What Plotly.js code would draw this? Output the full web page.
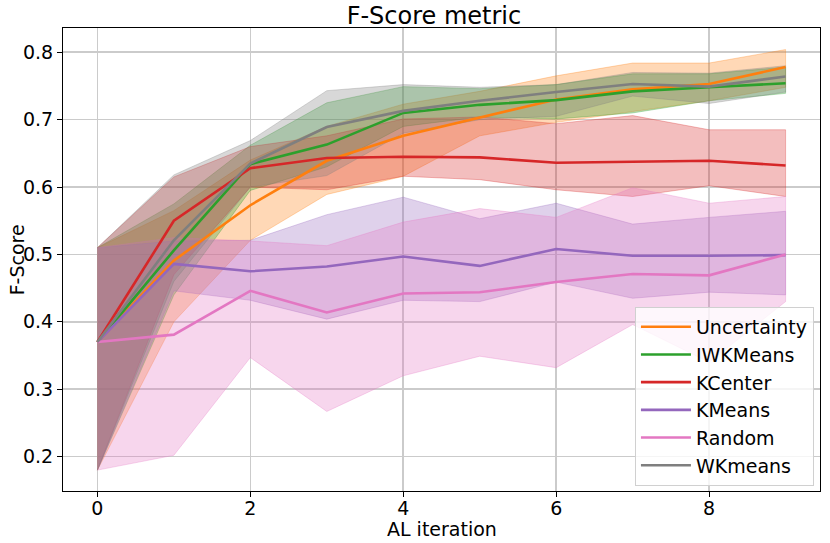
<!DOCTYPE html>
<html>
<head>
<meta charset="utf-8">
<script src="https://cdn.plot.ly/plotly-3.0.1.min.js"></script>
<style>
    html, body { margin: 0; padding: 0; background: #fff; }
    #chart { width: 830px; height: 543px; }
</style>
</head>
<body>
<div id="chart"></div>
<script>
// ==== DATA ==================================================================

// AL iterations on the x axis.
const iterations = [0, 1, 2, 3, 4, 5, 6, 7, 8, 9];

// Series names, in legend order.
const names = ["Uncertainty", "IWKMeans", "KCenter", "KMeans", "Random", "WKmeans"];

// Mean F-Score per iteration.
const uncertaintyMean = [0.370, 0.491, 0.573, 0.639, 0.676, 0.703, 0.730, 0.745, 0.753, 0.778];
const iwkmeansMean    = [0.370, 0.506, 0.634, 0.663, 0.710, 0.722, 0.729, 0.742, 0.748, 0.754];
const kcenterMean     = [0.370, 0.550, 0.628, 0.643, 0.645, 0.644, 0.636, 0.638, 0.639, 0.632];
const kmeansMean      = [0.370, 0.486, 0.475, 0.482, 0.497, 0.483, 0.508, 0.498, 0.498, 0.499];
const randomMean      = [0.370, 0.381, 0.446, 0.414, 0.442, 0.444, 0.459, 0.471, 0.469, 0.500];
const wkmeansMean     = [0.370, 0.521, 0.635, 0.689, 0.713, 0.728, 0.741, 0.753, 0.749, 0.764];

// Upper edge of each shaded band.
const uncertaintyHigh = [0.510, 0.565, 0.640, 0.690, 0.723, 0.742, 0.765, 0.784, 0.784, 0.804];
const iwkmeansHigh    = [0.510, 0.575, 0.662, 0.725, 0.749, 0.746, 0.752, 0.768, 0.768, 0.778];
const kcenterHigh     = [0.510, 0.615, 0.660, 0.676, 0.701, 0.704, 0.694, 0.706, 0.685, 0.685];
const kmeansHigh      = [0.510, 0.520, 0.521, 0.559, 0.585, 0.553, 0.576, 0.545, 0.555, 0.564];
const randomHigh      = [0.510, 0.525, 0.520, 0.513, 0.548, 0.568, 0.555, 0.599, 0.576, 0.586];
const wkmeansHigh     = [0.510, 0.618, 0.669, 0.743, 0.752, 0.748, 0.752, 0.770, 0.769, 0.780];

// Lower edge of each shaded band.
const uncertaintyLow = [0.180, 0.400, 0.521, 0.589, 0.616, 0.676, 0.696, 0.712, 0.728, 0.748];
const iwkmeansLow    = [0.180, 0.440, 0.595, 0.630, 0.690, 0.704, 0.701, 0.710, 0.728, 0.739];
const kcenterLow     = [0.180, 0.470, 0.600, 0.596, 0.616, 0.611, 0.596, 0.586, 0.602, 0.586];
const kmeansLow      = [0.180, 0.446, 0.432, 0.404, 0.432, 0.430, 0.459, 0.435, 0.444, 0.440];
const randomLow      = [0.180, 0.202, 0.347, 0.267, 0.320, 0.349, 0.332, 0.396, 0.340, 0.430];
const wkmeansLow     = [0.180, 0.460, 0.600, 0.617, 0.680, 0.700, 0.705, 0.735, 0.724, 0.741];

// ==== STYLE =================================================================

// Matplotlib tab10 colours, one per series.
const colors = ["#ff7f0e", "#2ca02c", "#d62728", "#9467bd", "#e377c2", "#7f7f7f"];

const means = [uncertaintyMean, iwkmeansMean, kcenterMean, kmeansMean, randomMean, wkmeansMean];
const highs = [uncertaintyHigh, iwkmeansHigh, kcenterHigh, kmeansHigh, randomHigh, wkmeansHigh];
const lows  = [uncertaintyLow, iwkmeansLow, kcenterLow, kmeansLow, randomLow, wkmeansLow];

// Hex colour to rgba string with given alpha.
function rgba(hex, a) {
    const n = parseInt(hex.slice(1), 16);
    return `rgba(${(n >> 16) & 255},${(n >> 8) & 255},${n & 255},${a})`;
}

// ==== TRACES ================================================================

const traces = [];

// Bands go first so every line is drawn above all of them.
for (let i = 0; i < names.length; i++) {
    traces.push({
        x: iterations.concat(iterations.slice().reverse()),
        y: highs[i].concat(lows[i].slice().reverse()),
        type: "scatter",
        mode: "lines",
        fill: "toself",
        fillcolor: rgba(colors[i], 0.3),
        line: { color: rgba(colors[i], 0.3), width: 1 },
        hoverinfo: "skip",
        showlegend: false,
    });
}

// Mean lines.
for (let i = 0; i < names.length; i++) {
    traces.push({
        x: iterations,
        y: means[i],
        type: "scatter",
        mode: "lines",
        name: names[i],
        line: { color: colors[i], width: 2.6 },
    });
}

// ==== LAYOUT ================================================================

const tickFont = { family: "DejaVu Sans", size: 19, color: "#000" };
const labelFont = { family: "DejaVu Sans", size: 19, color: "#000" };

// Common look of both axes: black box, outside ticks, light grid.
const axisBase = {
    ticks: "outside",
    ticklen: 5,
    tickcolor: "#000",
    showline: true,
    mirror: true,
    linecolor: "#000",
    linewidth: 1,
    showgrid: true,
    gridcolor: "#cbcbcb",
    gridwidth: 1.6,
    zeroline: false,
    tickfont: tickFont,
};

const layout = {
    width: 830,
    height: 543,
    margin: { l: 63, r: 10, t: 28, b: 52 },
    paper_bgcolor: "#fff",
    plot_bgcolor: "#fff",
    font: labelFont,
    title: {
        text: "F-Score metric",
        font: { family: "DejaVu Sans", size: 24, color: "#000" },
        xref: "paper",
        x: 0.49,
        xanchor: "center",
        y: 0.972,
        yanchor: "middle",
    },
    xaxis: {
        ...axisBase,
        range: [-0.45, 9.45],
        tickmode: "array",
        tickvals: [0, 2, 4, 6, 8],
        ticklabelstandoff: -5,
    },
    yaxis: {
        ...axisBase,
        range: [0.149, 0.836],
        tickmode: "array",
        tickvals: [0.2, 0.3, 0.4, 0.5, 0.6, 0.7, 0.8],
        tickformat: ".1f",
    },
    // Axis titles as annotations, so they sit exactly where the original has them.
    annotations: [
        {
            text: "AL iteration",
            xref: "paper", yref: "paper",
            x: 0.5, y: -0.053,
            xanchor: "center", yanchor: "top",
            showarrow: false,
            font: labelFont,
        },
        {
            text: "F-Score",
            xref: "paper", yref: "paper",
            x: -0.061, y: 0.5,
            xanchor: "center", yanchor: "middle",
            textangle: -90,
            showarrow: false,
            font: labelFont,
        },
    ],
    legend: {
        x: 0.992,
        y: 0.011,
        xanchor: "right",
        yanchor: "bottom",
        bgcolor: "rgba(255,255,255,0.8)",
        bordercolor: "#d0d0d0",
        borderwidth: 1,
        font: labelFont,
        itemwidth: 50,
        tracegroupgap: 0,
    },
    showlegend: true,
};

Plotly.newPlot("chart", traces, layout, { displayModeBar: false, staticPlot: true });
</script>
</body>
</html>
